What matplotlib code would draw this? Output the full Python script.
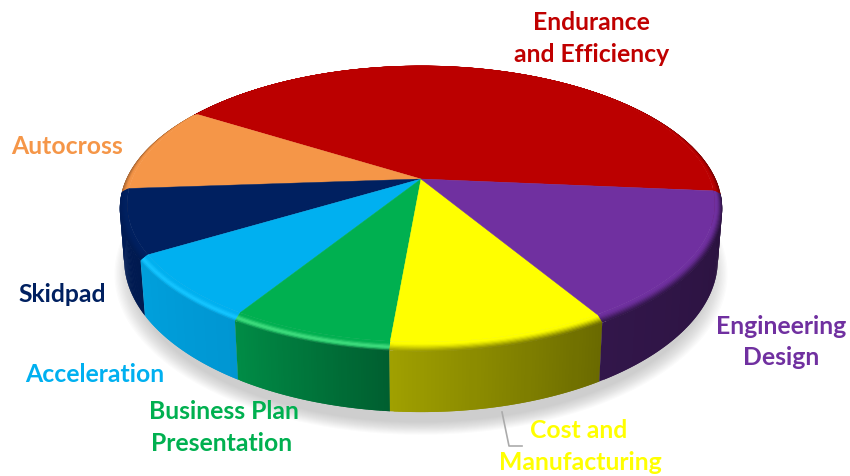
"""Points split of a Formula SAE style competition as a bevelled 3D pie"""

import numpy as np
import matplotlib
matplotlib.use('Agg')
import matplotlib.pyplot as plt
from matplotlib.collections import PolyCollection
from matplotlib.colors import to_rgb

# Event points, counter-clockwise from the right edge of the pie
events = ['Endurance and Efficiency', 'Autocross', 'Skidpad', 'Acceleration',
          'Business Plan Presentation', 'Cost and Manufacturing', 'Engineering Design']
points = [425, 100, 75, 75, 75, 100, 150]

top_colors = ['#BB0000', '#F59648', '#002060', '#00B0F0', '#00B050', '#FFFF00', '#7030A0']
wall_left = ['#700000', '#A06030', '#001C58', '#00A0DC', '#008C46', '#A0A000', '#32164A']
wall_right = ['#700000', '#A06030', '#001A50', '#0096D2', '#005F30', '#6A6A00', '#2A123E']
glow_colors = ['#BB0000', '#F59648', '#002060', '#14C4FF', '#3CDC7C', '#FFFF00', '#7030A0']
rim_glow = [0.0, 0.0, 0.0, 1.0, 1.0, 0.0, 0.0]

START_ANGLE = -5.0

# Projection of the disc onto the page, in pixels
CX, CY = 421.0, 180.0
AX, BY = 289.0, 133.5
PERSP = 0.181
R_RIM = 1.025
Z_RIM = 3.5
Z_WALL = 49.5
TAPER = 0.00028


def project(r, theta, z=0.0):
    x = r * np.cos(theta)
    y = r * np.sin(theta)
    k = 1.0 / (1.0 + PERSP * y)
    return CX + AX * x * k * (1.0 - TAPER * z * k), CY - BY * y * k + (z * k)


def mix(c0, c1, t):
    return tuple((1 - t) * a + t * b for a, b in zip(c0, c1))


def main():
    fig = plt.figure(figsize=(8.5, 4.77), dpi=100)
    ax = fig.add_axes([0, 0, 1, 1])
    ax.set_xlim(0, 850)
    ax.set_ylim(477, 0)
    ax.axis('off')

    share = np.array(points) / sum(points) * 2 * np.pi
    edges = np.radians(START_ANGLE) + np.concatenate([[0], np.cumsum(share)])

    # Soft shadow under the pie
    circle = np.linspace(0, 2 * np.pi, 240)
    for grow in np.linspace(1.035, 0.98, 14):
        sx, sy = project(R_RIM * grow, circle, Z_RIM + Z_WALL + 12)
        ax.fill(sx, sy, color='#909090', alpha=0.035, lw=0, zorder=1)

    # Each strip runs on under the next one so no seams show
    polys, colors = [], []

    # Outer wall, only the part facing the viewer
    for i in range(len(points)):
        th = np.linspace(edges[i], edges[i + 1], 60)
        for j in range(len(th) - 1):
            if np.sin(0.5 * (th[j] + th[j + 1])) > 0.02:
                continue
            seg = th[j:j + 3]
            xa, ya = project(R_RIM, seg, Z_RIM)
            xb, yb = project(R_RIM, seg, Z_RIM + Z_WALL)
            polys.append(np.column_stack([np.r_[xa, xb[::-1]], np.r_[ya, yb[::-1]]]))
            colors.append(mix(to_rgb(wall_left[i]), to_rgb(wall_right[i]), j / (len(th) - 2)))

    # Bevel between the flat face and the wall, outermost band first
    bands = 8
    rr = np.linspace(1.0, R_RIM, bands + 1)
    zz = np.linspace(0.0, Z_RIM, bands + 1)
    for b in range(bands - 1, -1, -1):
        t = (b + 0.5) / bands
        for i in range(len(points)):
            th = np.linspace(edges[i], edges[i + 1], 60)
            for j in range(len(th) - 1):
                wall = mix(to_rgb(wall_left[i]), to_rgb(wall_right[i]), j / (len(th) - 2))
                c = mix(to_rgb(top_colors[i]), wall, t * t * (3 - 2 * t))
                c = mix(c, to_rgb(glow_colors[i]), rim_glow[i] * np.sin(np.pi * t) ** 2)
                seg = th[j:j + 3]
                xa, ya = project(rr[b], seg, zz[b])
                xb, yb = project(min(rr[b + 1] + 0.004, R_RIM), seg, zz[b + 1])
                polys.append(np.column_stack([np.r_[xa, xb[::-1]], np.r_[ya, yb[::-1]]]))
                colors.append(c)

    ax.add_collection(PolyCollection(polys, facecolors=colors, edgecolors='none', zorder=2))

    # Flat top face, one wedge per event
    for i in range(len(points)):
        th = np.linspace(edges[i], edges[i + 1], 120)
        x, y = project(1.0, th)
        ax.fill(np.r_[CX, x], np.r_[CY, y], color=top_colors[i], lw=0.3, zorder=3)

    # Leader line for the cost label
    ax.plot([502, 509, 522], [413, 447, 447], color='#ABABAB', lw=1.2, zorder=1)

    # Event labels, split over the same lines as the slide text
    label_lines = [('Endurance', 591, 22, 0), ('and Efficiency', 592, 54, 0),
                   ('Autocross', 67, 147, 1), ('Skidpad', 62, 295, 2),
                   ('Acceleration', 95, 375, 3), ('Business Plan', 224, 412, 4),
                   ('Presentation', 222, 444, 4), ('Cost and', 579, 431, 5),
                   ('Manufacturing', 580, 463, 5), ('Engineering', 781, 327, 6),
                   ('Design', 781, 358, 6)]
    for text, x, y, i in label_lines:
        ax.text(x, y, text, color=top_colors[i] if i else '#C00000', fontsize=17.8,
                fontweight='bold', family='Lato', ha='center', va='center', zorder=4)

    fig.savefig('out.png', dpi=100, facecolor='white')


if __name__ == '__main__':
    main()
